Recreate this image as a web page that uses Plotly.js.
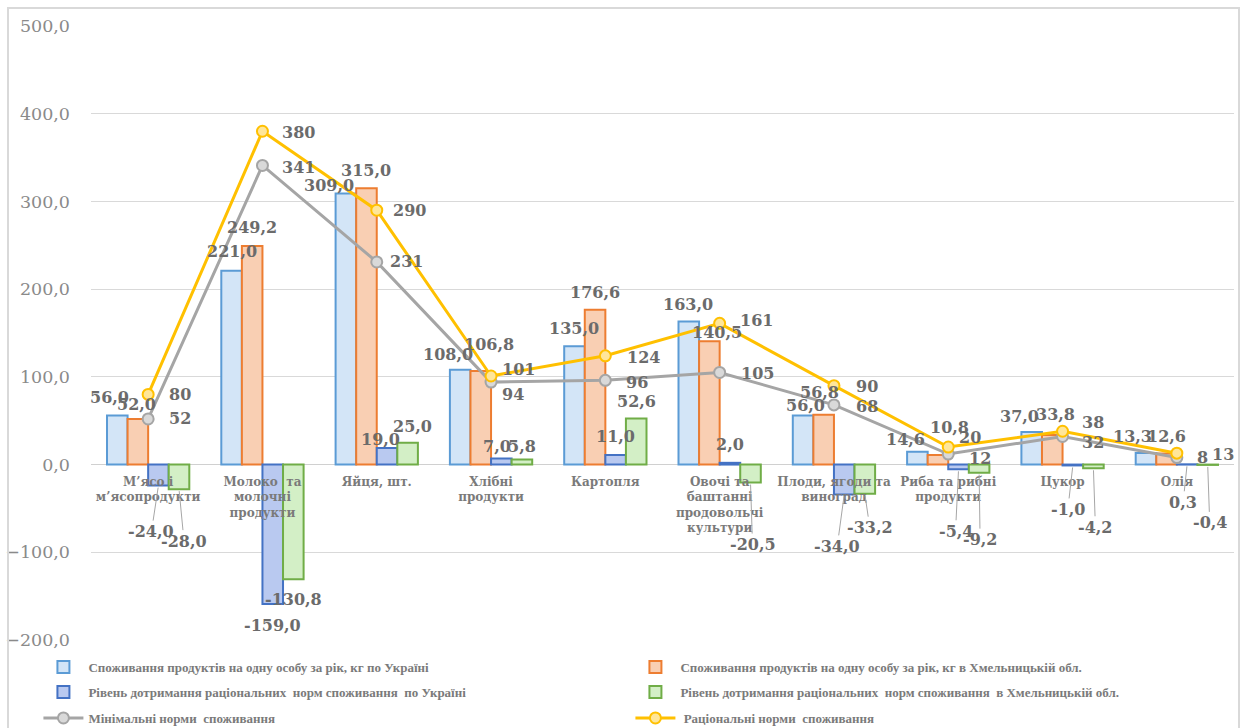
<!DOCTYPE html>
<html><head><meta charset="utf-8">
<script src="https://cdn.plot.ly/plotly-3.0.1.min.js"></script>
<style>
html,body{margin:0;padding:0;background:#fff;}
#chart{position:absolute;left:0;top:0;width:1242px;height:728px;}
#frame{position:absolute;left:7px;top:7px;width:1229px;height:730px;border:2px solid #d9d9d9;pointer-events:none;}
</style></head>
<body>
<div id="chart"></div>
<div id="frame"></div>
<script>
// ---------- data ----------
const categories = ["М’ясо і<br>м’ясопродукти", "Молоко  та<br>молочні<br>продукти", "Яйця, шт.", "Хлібні<br>продукти", "Картопля", "Овочі та<br>баштанні<br>продовольчі<br>культури", "Плоди, ягоди та<br>виноград", "Риба та рибні<br>продукти", "Цукор", "Олія"];
const consUkraine = [56.0, 221.0, 309.0, 108.0, 135.0, 163.0, 56.0, 14.6, 37.0, 13.3];
const consKhm = [52.0, 249.2, 315.0, 106.8, 176.6, 140.5, 56.8, 10.8, 33.8, 12.6];
const levelUkraine = [-24.0, -159.0, 19.0, 7.0, 11.0, 2.0, -34.0, -5.4, -1.0, 0.3];
const levelKhm = [-28.0, -130.8, 25.0, 5.8, 52.6, -20.5, -33.2, -9.2, -4.2, -0.4];
const minNorms = [52, 341, 231, 94, 96, 105, 68, 12, 32, 8];
const ratNorms = [80, 380, 290, 101, 124, 161, 90, 20, 38, 13];

const seriesNames = [
  "Споживання продуктів на одну особу за рік, кг по Україні",
  "Споживання продуктів на одну особу за рік, кг в Хмельницькій обл.",
  "Рівень дотримання раціональних  норм споживання  по Україні",
  "Рівень дотримання раціональних  норм споживання  в Хмельницькій обл.",
  "Мінімальні норми  споживання",
  " Раціональні норми  споживання"
];

// ---------- label placement (pixel nudges; "L" = label with leader line) ----------
const barLabelPos = [
  [[-8,18],[0,19],[-17,8],[-12,15],[0,18],[-1,17],[2,10],[-12,12],[-12,16],[-13,16]],
  [[-1,14],[0,18],[0,18],[8,26],[0,17],[8,9],[-4,22],[12,28],[3,20],[0,17]],
  [[-7,-46,"L"],[0,-21],[-7,8],[-4,12],[0,18],[0,18],[-7,-52,"L"],[-3,-62,"L"],[-5,-44,"L"],[-4,-38,"L"]],
  [[5,-52,"L"],[0,-20],[5,16],[0,13],[0,17],[2,-62,"L"],[5,-34,"L"],[1,-67,"L"],[2,-59,"L"],[2,-58,"L"]]
];
const lineLabelPos = [
  [[32,0],[36,-2],[30,0],[22,-12],[32,-2],[38,-1],[33,-2],[32,-4],[30,-6],[26,0]],
  [[32,0],[36,-1],[33,0],[27,6],[38,-2],[37,3],[33,-1],[22,10],[30,9],[46,-1]]
];

const W = 1242, H = 728;
const margin = {l: 91, r: 8, t: 26, b: 88, autoexpand: false};
const bargap = 0.28;
const labelFont = {family: "DejaVu Serif", size: 16, color: "#6b6b6b", weight: "bold"};
const fmt = v => v.toFixed(1).replace(".", ",");
const legendIds = ["legend", "legend", "legend2", "legend2", "legend3", "legend3"];

function barTrace(k, vals, fill, line) {
  return {
    type: "bar", name: seriesNames[k], legend: legendIds[k], x: categories, y: vals,
    marker: {color: fill, line: {color: line, width: 2}},
    hoverinfo: "skip"
  };
}
function lineTrace(k, vals, lineColor, markerFill) {
  return {
    type: "scatter", mode: "lines+markers", name: seriesNames[k], legend: legendIds[k], x: categories, y: vals,
    line: {color: lineColor, width: 3},
    marker: {size: 11, color: markerFill, line: {color: lineColor, width: 2}},
    hoverinfo: "skip", cliponaxis: false
  };
}

const barSeries = [consUkraine, consKhm, levelUkraine, levelKhm];
const lineSeries = [minNorms, ratNorms];

const data = [
  barTrace(0, consUkraine, "#d3e5f7", "#5b9bd5"),
  barTrace(1, consKhm, "#f9cfb3", "#ed7d31"),
  barTrace(2, levelUkraine, "#b9c9f0", "#4472c4"),
  barTrace(3, levelKhm, "#d3efc6", "#70ad47"),
  lineTrace(4, minNorms, "#a5a5a5", "#d9d9d9"),
  lineTrace(5, ratNorms, "#ffc000", "#ffe699")
];

// annotations for labels (text from data arrays)
const plotW = W - margin.l - margin.r;
const plotH = H - margin.t - margin.b;
const slot = plotW / categories.length;
const barW = slot * (1 - bargap) / barSeries.length;
const annotations = [];
barSeries.forEach((vals, j) => {
  const off = (j - (barSeries.length - 1) / 2) * barW;
  vals.forEach((v, i) => {
    const p = barLabelPos[j][i];
    if (p[2] === "L") {
      annotations.push({x: i, y: v, xref: "x", yref: "y", text: fmt(v), font: labelFont,
        xshift: off, showarrow: true, arrowhead: 0, arrowwidth: 1, arrowcolor: "#a6a6a6",
        ax: p[0], ay: -p[1], standoff: 2});
    } else {
      annotations.push({x: i, y: v, xref: "x", yref: "y", text: fmt(v), font: labelFont,
        xshift: off + p[0], yshift: p[1], showarrow: false, xanchor: "center", yanchor: "middle"});
    }
  });
});
lineSeries.forEach((vals, j) => {
  vals.forEach((v, i) => {
    const p = lineLabelPos[j][i];
    annotations.push({x: i, y: v, xref: "x", yref: "y", text: String(v), font: labelFont,
      xshift: p[0], yshift: p[1], showarrow: false, xanchor: "center", yanchor: "middle"});
  });
});

const rowY = px => 1 - (px - margin.t) / plotH;
const legendBase = {
  orientation: "h", x: -0.046, xanchor: "left", yanchor: "middle",
  entrywidth: 537, entrywidthmode: "pixels",
  font: {family: "Liberation Serif", size: 13, color: "#7a7a7a", weight: "bold"},
  traceorder: "normal", itemwidth: 40, bgcolor: "rgba(0,0,0,0)"
};

const layout = {
  width: W, height: H, margin: margin,
  paper_bgcolor: "rgba(0,0,0,0)", plot_bgcolor: "#ffffff",
  separators: ", ",
  barmode: "group", bargap: bargap, bargroupgap: 0,
  showlegend: true,
  font: {family: "DejaVu Serif", color: "#7f7f7f"},
  xaxis: {
    type: "category", anchor: "free", position: 200/700, range: [-0.5, categories.length - 0.5],
    showline: false, showgrid: false, zeroline: false, ticks: "", tickangle: 0,
    tickfont: {family: "DejaVu Serif", size: 12, color: "#7a7a7a", weight: "bold"},
    ticklabelstandoff: 8
  },
  yaxis: {
    range: [-200, 500], dtick: 100, tickformat: ".1f",
    showgrid: true, gridcolor: "#d9d9d9", gridwidth: 1,
    zeroline: true, zerolinecolor: "#d0d0d0", zerolinewidth: 1,
    showline: false, ticks: "", ticklabelstandoff: 20,
    tickfont: {family: "DejaVu Serif", size: 17.5, color: "#8a8a8a"}
  },
  legend: Object.assign({}, legendBase, {y: rowY(667)}),
  legend2: Object.assign({}, legendBase, {y: rowY(692)}),
  legend3: Object.assign({}, legendBase, {y: rowY(718)}),
  annotations: annotations
};

Plotly.newPlot("chart", data, layout, {displayModeBar: false, staticPlot: true});
</script>
</body></html>
